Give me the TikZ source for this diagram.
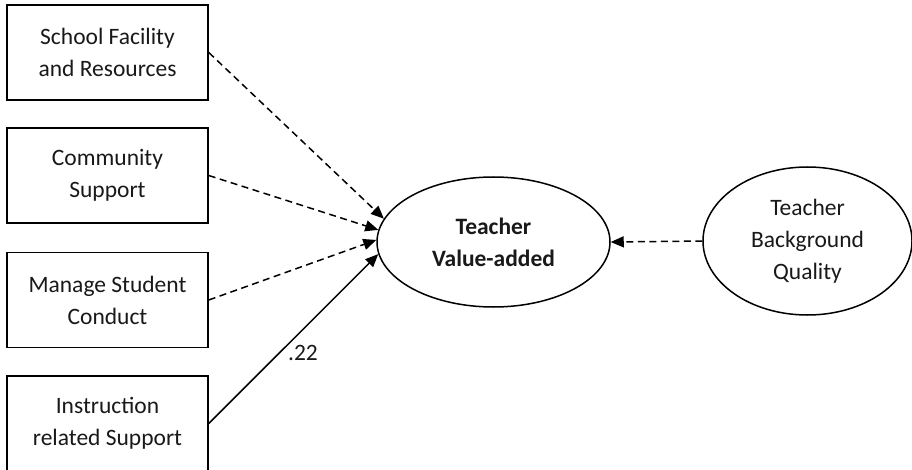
\documentclass[tikz,border=0pt]{standalone}
\usepackage{fontspec}
\setmainfont{Carlito}
\usetikzlibrary{arrows.meta,shapes.geometric}
\begin{document}
\begin{tikzpicture}[x=1pt,y=-1pt,
  every node/.style={font=\fontsize{23.5}{32}\selectfont, text=black!90, align=center},
  inbox/.style={draw, line width=1.5pt, minimum width=201pt, minimum height=95pt, inner sep=0pt},
  latent/.style={draw, ellipse, line width=1.5pt, inner sep=0pt},
  dasharrow/.style={line width=1.5pt, dash pattern=on 7pt off 4.5pt, -{Triangle[length=13pt,width=11pt]}},
  solidarrow/.style={line width=1.5pt, -{Triangle[length=13pt,width=11pt]}}
]
\useasboundingbox[fill=white] (0,0) rectangle (912,470);
\node[inbox] (sfr) at (107.5,52.5) {School Facility\\and Resources};
\node[inbox] (cs) at (107.5,175.5) {Community\\Support};
\node[inbox] (msc) at (107.5,300) {Manage Student\\Conduct};
\node[inbox] (irs) at (107.5,423.5) {Instruction\\related Support};
\node[latent, minimum width=233pt, minimum height=130pt] (tva) at (493.5,242) {\bfseries Teacher\\\bfseries Value-added};
\node[latent, minimum width=209pt, minimum height=148pt] (tbq) at (807.5,241) {Teacher\\Background\\Quality};
\draw[dasharrow] (sfr.east) -- (tva.168);
\draw[dasharrow] (cs.east) -- (tva.174);
\draw[dasharrow] (msc.east) -- (tva.179.5);
\draw[solidarrow] (irs.east) -- (tva.186);
\node (w) at (303,353) {.22};
\draw[dasharrow] (tbq.west) -- (tva.east);
\end{tikzpicture}
\end{document}
